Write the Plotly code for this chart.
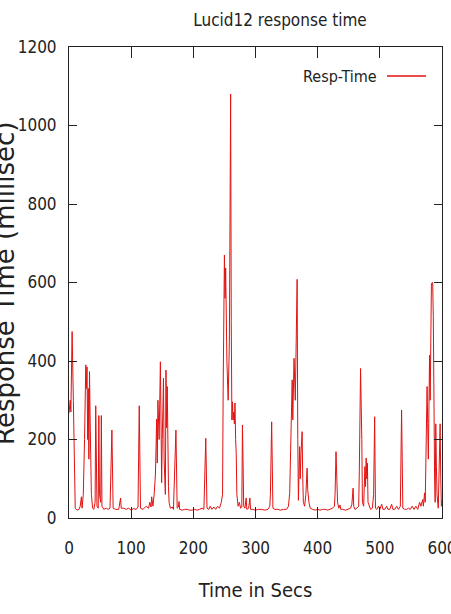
import plotly.graph_objects as go

# Time (s) and response time (ms)
time_s = [0, 2, 3, 5, 7, 9, 10, 13, 16, 18, 20, 21, 23, 25, 27, 28, 29, 30, 31, 32, 33, 34, 35, 36, 38,
          40, 42, 43, 45, 47, 48, 49, 51, 52, 53, 56, 60, 63, 66, 69, 71, 75, 80, 83, 84, 88, 92, 96,
          100, 104, 108, 111, 113, 115, 119, 124, 128, 130, 132, 133, 135, 137, 139, 141, 142, 143, 145,
          147, 148, 149, 150, 152, 153, 155, 156, 157, 158, 159, 160, 161, 163, 166, 168, 172, 174, 176,
          177, 178, 182, 186, 190, 194, 198, 202, 206, 210, 214, 217, 220, 222, 225, 227, 230, 233, 236,
          239, 242, 245, 247, 248, 250, 251, 252, 254, 256, 258, 260, 261, 262, 263, 264, 265, 266, 267,
          268, 269, 270, 272, 274, 276, 278, 279, 280, 281, 283, 285, 286, 289, 291, 292, 295, 300, 305,
          310, 315, 320, 323, 324, 326, 328, 331, 336, 340, 345, 350, 353, 355, 357, 359, 360, 362, 364,
          365, 367, 368, 369, 371, 372, 373, 375, 376, 377, 379, 381, 383, 384, 386, 388, 392, 396, 400,
          404, 408, 412, 416, 420, 424, 427, 428, 429.5, 431, 432, 434, 436, 437, 440, 445, 450, 453,
          455, 457, 458, 460, 463, 466, 467, 469, 471, 472, 474, 476, 477, 478, 479, 480, 481, 483, 485,
          488, 490, 491.7, 493, 495, 498, 500, 503, 505, 508, 511, 513, 516, 519, 521, 524, 527, 530,
          533, 535, 537, 540, 543, 546, 549, 552, 555, 558, 561, 564, 566, 569, 570, 572, 573, 575, 576,
          577, 578, 580, 581, 583, 585, 586, 587, 588, 589, 590, 591, 592, 594, 596, 597, 598, 599, 600]

resp_ms = [267, 300, 270, 475, 300, 80, 25, 20, 22, 30, 54, 25, 60, 200, 390, 330, 385, 200, 330, 150, 373, 250, 90, 60, 25,
           22, 40, 286, 30, 25, 261, 60, 40, 261, 30, 22, 25, 22, 25, 224, 25, 22, 22, 51, 25, 25, 22, 25,
           20, 24, 22, 28, 286, 25, 22, 30, 25, 40, 28, 54, 30, 60, 110, 252, 140, 300, 200,
           398, 250, 90, 200, 356, 150, 60, 377, 230, 335, 100, 80, 40, 25, 28, 22, 224, 25, 28,
           42, 22, 20, 22, 22, 20, 20, 22, 20, 22, 25, 22, 203, 25, 22, 30, 22, 28, 22,
           30, 25, 40, 60, 328, 670, 560, 637, 400, 300, 450, 1080, 500, 250, 296, 250, 270, 240, 293,
           200, 165, 60, 30, 40, 25, 28, 237, 140, 30, 25, 51, 22, 25, 51, 22, 22, 20, 22,
           22, 20, 22, 30, 60, 245, 25, 22, 22, 20, 22, 22, 30, 63, 200, 352, 250, 407, 300,
           400, 608, 200, 45, 182, 100, 160, 220, 100, 40, 30, 60, 127, 72, 40, 25, 22, 20, 22,
           20, 22, 22, 20, 22, 25, 30, 60, 169, 110, 40, 25, 33, 22, 22, 20, 22, 25,
           35, 76, 30, 22, 25, 30, 120, 381, 200, 40, 30, 131, 80, 153, 100, 140, 40, 30, 22,
           25, 60, 258, 25, 22, 30, 22, 35, 22, 22, 30, 22, 22, 35, 22, 22, 30, 22,
           30, 275, 25, 22, 22, 25, 22, 30, 22, 30, 22, 40, 30, 47, 30, 64, 40, 200, 335,
           241, 150, 415, 300, 598, 600, 513, 242, 115, 40, 240, 131, 60, 25, 237, 240, 100, 30, 46]

x_ticks = [0, 100, 200, 300, 400, 500, 600]
y_ticks = [0, 200, 400, 600, 800, 1000, 1200]

title_text = "Lucid12 response time"
x_title = "Time in Secs"
y_title = "Response Time (millisec)"
series_name = "Resp-Time"

NARROW = "Liberation Sans Narrow, DejaVu Sans Condensed, Arial Narrow, sans-serif"
LINE_COLOR = "rgb(226,18,18)"

fig = go.Figure()
fig.add_trace(go.Scatter(x=time_s, y=resp_ms, mode="lines", name=series_name,
                         line=dict(color=LINE_COLOR, width=1), showlegend=False))

L, R, T, B = 69, 9, 47, 96
W, H = 451, 614
pw, ph = W - L - R, H - T - B

fig.update_layout(
    width=W, height=H,
    margin=dict(l=L, r=R, t=T, b=B, autoexpand=False),
    paper_bgcolor="white", plot_bgcolor="white",
    title=dict(text=title_text, x=280 / W, xref="container", xanchor="center",
               y=1 - 20 / H, yref="container", yanchor="middle",
               font=dict(family=NARROW, size=17, color="#222")),
    showlegend=False,
)

axis_common = dict(showgrid=False, zeroline=False, showline=True, linecolor="#222", linewidth=1,
                   mirror="ticks", ticks="inside", tickcolor="#222", tickwidth=1, automargin=False,
                   tickfont=dict(family=NARROW, size=17, color="#222"))

fig.update_xaxes(range=[0, 600], tickvals=x_ticks, ticktext=[str(v) for v in x_ticks], ticklen=11,
                 ticklabelstandoff=15, ticklabeloverflow="allow",
                 title=dict(text=x_title, font=dict(family=NARROW, size=20, color="#222"), standoff=25),
                 **axis_common)
fig.update_yaxes(range=[0, 1200], tickvals=y_ticks, ticktext=[str(v) for v in y_ticks], ticklen=8,
                 ticklabelstandoff=8, ticklabeloverflow="allow", **axis_common)

# rotated y-axis title (partly cut by left edge, as in the reference)
fig.add_annotation(text=y_title, textangle=-90, xref="paper", yref="paper",
                   x=(5 - L) / pw, y=(518 - 284) / ph, xanchor="center", yanchor="middle",
                   showarrow=False, font=dict(family="DejaVu Sans", size=26, color="#222"))

# legend: text left of the line sample (gnuplot style)
ly = (518 - 76) / ph
fig.add_annotation(text=series_name, xref="paper", yref="paper", x=(379 - L) / pw, y=ly,
                   xanchor="right", yanchor="middle", showarrow=False,
                   font=dict(family=NARROW, size=16, color="#222"))
fig.add_shape(type="line", xref="paper", yref="paper", x0=(387 - L) / pw, x1=(426 - L) / pw,
              y0=ly, y1=ly, line=dict(color=LINE_COLOR, width=1.5))

fig.write_html("out.html")
